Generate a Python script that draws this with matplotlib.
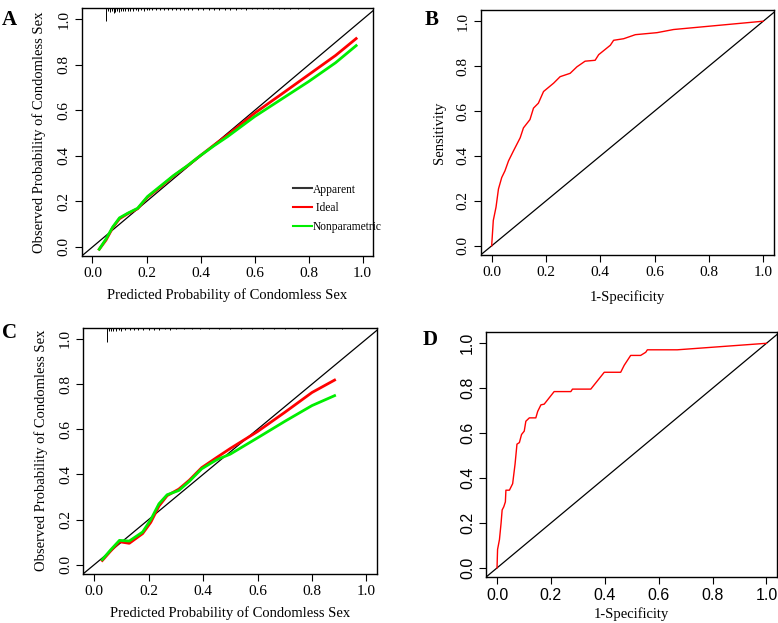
import numpy as np
import matplotlib
matplotlib.use("Agg")
import matplotlib.pyplot as plt
import matplotlib.transforms as mtransforms
from matplotlib.lines import Line2D

plt.rcParams['font.family'] = ['Liberation Serif', 'DejaVu Serif']

# Калибровочная кривая, выборка A
cal_a_x = [0.025, 0.05, 0.075, 0.10, 0.13, 0.167, 0.204, 0.25, 0.30, 0.35, 0.40, 0.45, 0.50, 0.60, 0.70, 0.80, 0.90, 0.976]
cal_a_ideal = [-0.01, 0.03, 0.085, 0.124, 0.146, 0.168, 0.219, 0.262, 0.312, 0.355, 0.402, 0.448, 0.492, 0.588, 0.672, 0.757, 0.842, 0.916]
cal_a_nonpar = [-0.01, 0.035, 0.088, 0.128, 0.148, 0.170, 0.222, 0.266, 0.314, 0.356, 0.402, 0.445, 0.485, 0.573, 0.650, 0.727, 0.810, 0.885]

# Калибровочная кривая, выборка C
cal_c_x = [0.03, 0.06, 0.093, 0.129, 0.178, 0.208, 0.238, 0.268, 0.311, 0.35, 0.395, 0.45, 0.50, 0.60, 0.70, 0.80, 0.883]
cal_c_ideal = [0.019, 0.06, 0.102, 0.095, 0.138, 0.188, 0.260, 0.306, 0.335, 0.375, 0.43, 0.475, 0.515, 0.59, 0.675, 0.763, 0.818]
cal_c_nonpar = [0.023, 0.065, 0.108, 0.105, 0.145, 0.20, 0.27, 0.31, 0.329, 0.37, 0.425, 0.465, 0.49, 0.562, 0.635, 0.705, 0.749]

# Гистограмма прогнозов сверху (rug)
rug_a_x = [0.05, 0.057, 0.064, 0.071, 0.078, 0.085, 0.092, 0.099, 0.106, 0.113, 0.12, 0.13, 0.14, 0.15, 0.16,
           0.17, 0.18, 0.19, 0.20, 0.21, 0.22, 0.235, 0.25, 0.265, 0.28, 0.295, 0.31, 0.325, 0.34, 0.355,
           0.37, 0.39, 0.41, 0.43, 0.45, 0.47, 0.49, 0.51, 0.53, 0.55, 0.57, 0.59, 0.61, 0.63, 0.65,
           0.67, 0.69, 0.71, 0.73, 0.76, 0.80]
rug_a_h = [0.052, 0.012, 0.016, 0.012, 0.018, 0.014, 0.012, 0.016, 0.012, 0.01, 0.012, 0.01, 0.012, 0.01, 0.009,
           0.01, 0.009, 0.01, 0.009, 0.008, 0.009, 0.008, 0.009, 0.008, 0.008, 0.007, 0.008, 0.007, 0.008, 0.007,
           0.007, 0.007, 0.006, 0.007, 0.006, 0.006, 0.006, 0.006, 0.006, 0.005, 0.006, 0.005, 0.005, 0.005, 0.005,
           0.005, 0.005, 0.005, 0.004, 0.004, 0.004]
rug_c_x = [0.047, 0.055, 0.063, 0.071, 0.08, 0.09, 0.10, 0.115, 0.13, 0.145, 0.16, 0.18, 0.20, 0.22, 0.24,
           0.26, 0.28, 0.30, 0.33, 0.36, 0.39, 0.42, 0.46, 0.50, 0.54, 0.58, 0.62, 0.66, 0.70, 0.75,
           0.80, 0.85, 0.91]
rug_c_h = [0.06, 0.015, 0.012, 0.014, 0.012, 0.01, 0.012, 0.01, 0.009, 0.01, 0.009, 0.008, 0.009, 0.008, 0.008,
           0.007, 0.008, 0.007, 0.007, 0.006, 0.007, 0.006, 0.006, 0.006, 0.005, 0.006, 0.005, 0.005, 0.005, 0.005,
           0.004, 0.005, 0.004]

# ROC-кривая B
roc_b_fpr = [0.0, 0.006, 0.016, 0.025, 0.037, 0.049, 0.062, 0.08, 0.105, 0.117, 0.141, 0.154, 0.172, 0.191, 0.228, 0.252, 0.289, 0.314, 0.344, 0.381, 0.394, 0.437, 0.449, 0.486, 0.529, 0.609, 0.67, 1.0]
roc_b_tpr = [0.0, 0.113, 0.172, 0.253, 0.304, 0.334, 0.378, 0.422, 0.481, 0.525, 0.562, 0.613, 0.635, 0.687, 0.724, 0.753, 0.768, 0.797, 0.822, 0.826, 0.851, 0.893, 0.915, 0.922, 0.94, 0.949, 0.963, 1.0]

# ROC-кривая D
roc_d_fpr = [0.0, 0.002, 0.009, 0.015, 0.019, 0.025, 0.031, 0.033, 0.046, 0.058, 0.067, 0.074, 0.083, 0.091, 0.101, 0.107, 0.12, 0.144, 0.151, 0.163, 0.175, 0.212, 0.274, 0.28, 0.348, 0.398, 0.459, 0.472, 0.496, 0.533, 0.552, 0.558, 0.669, 1.0]
roc_d_tpr = [0.0, 0.082, 0.126, 0.199, 0.258, 0.272, 0.294, 0.346, 0.346, 0.375, 0.463, 0.551, 0.558, 0.594, 0.609, 0.653, 0.668, 0.668, 0.697, 0.726, 0.729, 0.785, 0.785, 0.796, 0.796, 0.871, 0.871, 0.902, 0.946, 0.946, 0.96, 0.971, 0.971, 1.0]

ticks = [0.0, 0.2, 0.4, 0.6, 0.8, 1.0]
tick_labels = ['0.0', '0.2', '0.4', '0.6', '0.8', '1.0']
cal_xlabel = 'Predicted Probability of Condomless Sex'
cal_ylabel = 'Observed Probability of Condomless Sex'


def style_axes(ax, tick_font='Liberation Serif', tick_size=11):
    ax.set_xlim(-0.04, 1.04)
    ax.set_ylim(-0.04, 1.05)
    ax.set_xticks(ticks)
    ax.set_xticklabels(tick_labels, family=tick_font, fontsize=tick_size)
    ax.set_yticks(ticks)
    ax.set_yticklabels(tick_labels, family=tick_font, fontsize=tick_size, rotation=90, va='center')
    ax.tick_params(direction='out', length=5, width=0.8, pad=3)
    for s in ax.spines.values():
        s.set_linewidth(1.0)


def calibration_panel(ax, x, ideal, nonpar, rug_x, rug_h, legend):
    ax.plot([-0.1, 1.1], [-0.1, 1.1], color='black', lw=0.9)
    ax.plot(x, ideal, color='#ff0000', lw=2.0)
    ax.plot(x, nonpar, color='#00ee00', lw=2.0)
    # rug висит от верхней рамки
    trans = mtransforms.blended_transform_factory(ax.transData, ax.transAxes)
    ax.vlines(rug_x, [1.0 - h for h in rug_h], 1.0, color='black', lw=0.7, transform=trans)
    style_axes(ax)
    ax.set_xlabel(cal_xlabel, fontsize=10.5, labelpad=6)
    ax.set_ylabel(cal_ylabel, fontsize=10.5, labelpad=8)
    if legend:
        handles = [Line2D([], [], color='#333333', lw=1.5),
                   Line2D([], [], color='#ff0000', lw=1.5),
                   Line2D([], [], color='#00ee00', lw=1.5)]
        ax.legend(handles, ['Apparent', ' Ideal', 'Nonparametric'], frameon=False,
                  loc='lower left', bbox_to_anchor=(0.71, 0.073), fontsize=8.3,
                  handlelength=1.6, handletextpad=0.1, labelspacing=0.6,
                  borderaxespad=0)


def roc_panel(ax, fpr, tpr, sans=False, ylabel=True):
    ax.plot([-0.1, 1.1], [-0.1, 1.1], color='black', lw=0.9)
    ax.plot(fpr, tpr, color='#ff0000', lw=1.0)
    if sans:
        style_axes(ax, tick_font='Liberation Sans', tick_size=11.5)
    else:
        style_axes(ax)
    ax.set_xlabel('1-Specificity', fontsize=10.5, labelpad=8 if not sans else 3)
    if ylabel:
        ax.set_ylabel('Sensitivity', fontsize=10.5, labelpad=8)


fig = plt.figure(figsize=(7.78, 6.23), dpi=100)

ax_a = fig.add_axes([0.105, 0.589, 0.375, 0.398])
ax_b = fig.add_axes([0.618, 0.591, 0.377, 0.393])
ax_c = fig.add_axes([0.107, 0.079, 0.378, 0.395])
ax_d = fig.add_axes([0.625, 0.074, 0.374, 0.393])

calibration_panel(ax_a, cal_a_x, cal_a_ideal, cal_a_nonpar, rug_a_x, rug_a_h, True)
roc_panel(ax_b, roc_b_fpr, roc_b_tpr)
calibration_panel(ax_c, cal_c_x, cal_c_ideal, cal_c_nonpar, rug_c_x, rug_c_h, False)
roc_panel(ax_d, roc_d_fpr, roc_d_tpr, sans=True, ylabel=False)

# Буквы панелей
for letter, (px, py) in zip('ABCD', [(2, 20), (425, 20), (2, 333), (423, 340)]):
    fig.text(px / 778, 1 - py / 623, letter, fontsize=15, fontweight='bold', va='center', ha='left')

fig.savefig('out.png', dpi=100)
